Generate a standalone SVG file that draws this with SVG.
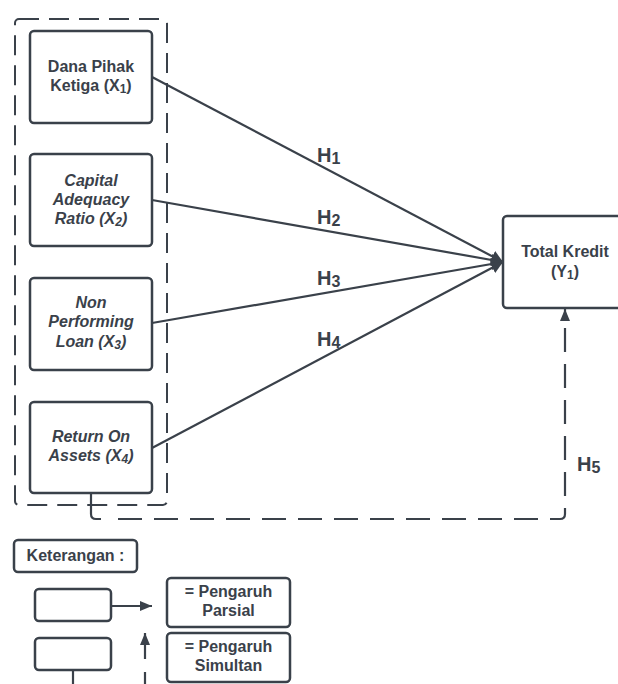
<svg xmlns="http://www.w3.org/2000/svg" width="618" height="684" viewBox="0 0 618 684">
<style>
.box{fill:#fff;stroke:#3a414a;stroke-width:2.5}
.ln{fill:none;stroke:#3a414a;stroke-width:2.2}
.dash{fill:none;stroke:#3a414a;stroke-width:2.2;stroke-dasharray:24 12}
.grp{fill:none;stroke:#3a414a;stroke-width:2;stroke-dasharray:20 10}
text{font-family:"Liberation Sans",Arial,sans-serif;font-weight:bold;fill:#3a414a;font-size:16px;text-anchor:middle}
.it{font-style:italic}
.h{font-size:20px;text-anchor:start}
.sub{font-size:12px}
.hs{font-size:16px}
</style>
<defs>
<marker id="ah" markerUnits="userSpaceOnUse" markerWidth="14" markerHeight="14" refX="12" refY="7" orient="auto">
<path d="M0,1 L12,7 L0,13 Z" fill="#3a414a"/>
</marker>
<marker id="ahs" markerUnits="userSpaceOnUse" markerWidth="14" markerHeight="12" refX="12" refY="5" orient="auto">
<path d="M0,0 L12,5 L0,10 Z" fill="#3a414a"/>
</marker>
</defs>
<rect x="0" y="0" width="618" height="684" fill="#fff"/>
<rect class="grp" x="15" y="19" width="152" height="486" rx="4"/>
<g id="connectors">
<line class="ln" x1="152" y1="77" x2="503" y2="262" marker-end="url(#ah)"/>
<line class="ln" x1="152" y1="200" x2="503" y2="262" marker-end="url(#ah)"/>
<line class="ln" x1="152" y1="323" x2="503" y2="262" marker-end="url(#ah)"/>
<line class="ln" x1="152" y1="448" x2="503" y2="262" marker-end="url(#ah)"/>
<path class="ln" d="M91,493 V514 Q91,519 96,519 H101"/>
<path class="dash" d="M106,519 H560 Q565,519 565,514 V309" stroke-dashoffset="24" marker-end="url(#ahs)"/>
<text class="h" x="317" y="162">H<tspan class="hs" dy="2">1</tspan></text>
<text class="h" x="317" y="224">H<tspan class="hs" dy="2">2</tspan></text>
<text class="h" x="317" y="285">H<tspan class="hs" dy="2">3</tspan></text>
<text class="h" x="317" y="346">H<tspan class="hs" dy="2">4</tspan></text>
<text class="h" x="577" y="471">H<tspan class="hs" dy="2">5</tspan></text>
</g>
<g id="x1">
<rect class="box" x="30" y="31" width="122" height="92" rx="4"/>
<text x="91" y="72">Dana Pihak</text>
<text x="91" y="91">Ketiga (X<tspan class="sub" dy="2">1</tspan><tspan dy="-2">)</tspan></text>
</g>
<g id="x2">
<rect class="box" x="30" y="154" width="122" height="92" rx="4"/>
<text class="it" x="91" y="186">Capital</text>
<text class="it" x="91" y="205">Adequacy</text>
<text class="it" x="91" y="224">Ratio (X<tspan class="sub" dy="2">2</tspan><tspan dy="-2">)</tspan></text>
</g>
<g id="x3">
<rect class="box" x="30" y="278" width="122" height="92" rx="4"/>
<text class="it" x="91" y="308">Non</text>
<text class="it" x="91" y="327">Performing</text>
<text class="it" x="91" y="347">Loan (X<tspan class="sub" dy="2">3</tspan><tspan dy="-2">)</tspan></text>
</g>
<g id="x4">
<rect class="box" x="30" y="402" width="122" height="91" rx="4"/>
<text class="it" x="91" y="442">Return On</text>
<text class="it" x="91" y="461">Assets (X<tspan class="sub" dy="2">4</tspan><tspan dy="-2">)</tspan></text>
</g>
<g id="y1">
<rect class="box" x="503" y="216" width="124" height="92" rx="4"/>
<text x="565" y="257">Total Kredit</text>
<text x="565" y="277">(Y<tspan class="sub" dy="2">1</tspan><tspan dy="-2">)</tspan></text>
</g>
<g id="legend">
<rect class="box" x="14" y="540" width="123" height="32" rx="4"/>
<text x="75.5" y="561">Keterangan :</text>
<rect class="box" x="35" y="589" width="76" height="32" rx="4"/>
<line class="ln" x1="111" y1="606" x2="152" y2="606" marker-end="url(#ahs)"/>
<rect class="box" x="167" y="578" width="123" height="49" rx="4"/>
<text x="228.5" y="597">= Pengaruh</text>
<text x="228.5" y="616">Parsial</text>
<rect class="box" x="35" y="638" width="76" height="32" rx="4"/>
<line class="ln" x1="73" y1="670" x2="73" y2="684"/>
<path class="ln" d="M145,684 V672 M145,659 V633" marker-end="url(#ahs)"/>
<rect class="box" x="167" y="633" width="123" height="49" rx="4"/>
<text x="228.5" y="652">= Pengaruh</text>
<text x="228.5" y="671">Simultan</text>
</g>
</svg>
